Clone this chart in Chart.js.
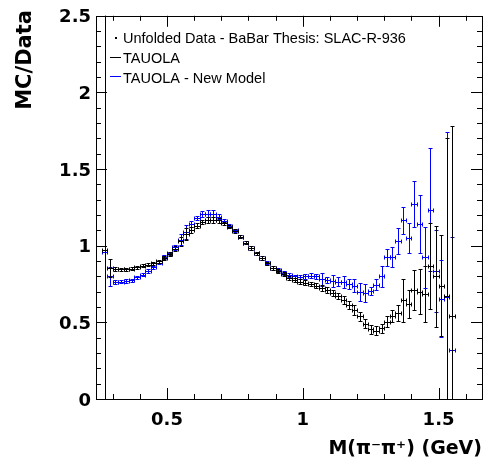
<!DOCTYPE html>
<html>
<head>
<meta charset="utf-8">
<script src="https://cdn.jsdelivr.net/npm/chart.js@4.4.1/dist/chart.umd.min.js"></script>
<style>
  html, body { margin: 0; padding: 0; background: #fff; }
  #wrap { width: 488px; height: 464px; }
</style>
</head>
<body>
<div id="wrap"><canvas id="ratioChart"></canvas></div>
<script>
// Bin centres of M(pi- pi+) in GeV, 0.02 GeV wide bins
const binCenters = [
  0.27, 0.29, 0.31, 0.33, 0.35, 0.37, 0.39, 0.41, 0.43, 0.45,
  0.47, 0.49, 0.51, 0.53, 0.55, 0.57, 0.59, 0.61, 0.63, 0.65,
  0.67, 0.69, 0.71, 0.73, 0.75, 0.77, 0.79, 0.81, 0.83, 0.85,
  0.87, 0.89, 0.91, 0.93, 0.95, 0.97, 0.99, 1.01, 1.03, 1.05,
  1.07, 1.09, 1.11, 1.13, 1.15, 1.17, 1.19, 1.21, 1.23, 1.25,
  1.27, 1.29, 1.31, 1.33, 1.35, 1.37, 1.39, 1.41, 1.43, 1.45,
  1.47, 1.49, 1.51, 1.53, 1.55
];
const halfBin = 0.01;

// TAUOLA / data
const tauolaRatio = [
  0.97, 0.855, 0.85, 0.845, 0.845, 0.85, 0.86, 0.87, 0.875, 0.885,
  0.90, 0.92, 0.945, 0.98, 1.03, 1.075, 1.10, 1.13, 1.155, 1.165,
  1.165, 1.165, 1.145, 1.125, 1.095, 1.06, 1.02, 0.985, 0.95, 0.92,
  0.885, 0.855, 0.835, 0.815, 0.79, 0.775, 0.765, 0.76, 0.75, 0.74,
  0.725, 0.71, 0.69, 0.67, 0.645, 0.615, 0.58, 0.54, 0.49, 0.455,
  0.445, 0.46, 0.505, 0.54, 0.56, 0.645, 0.62, 0.71, 0.70, 0.685,
  0.87, 0.80, 0.74, 0.67, 0.54
];
const tauolaErr = [
  3.0, 0.06, 0.012, 0.01, 0.01, 0.01, 0.01, 0.01, 0.01, 0.01,
  0.01, 0.012, 0.012, 0.015, 0.03, 0.04, 0.02, 0.015, 0.015, 0.02,
  0.02, 0.015, 0.012, 0.012, 0.012, 0.012, 0.012, 0.012, 0.012, 0.012,
  0.012, 0.012, 0.012, 0.012, 0.012, 0.012, 0.015, 0.015, 0.015, 0.015,
  0.02, 0.02, 0.02, 0.02, 0.025, 0.025, 0.03, 0.03, 0.03, 0.03,
  0.03, 0.03, 0.035, 0.04, 0.05, 0.14, 0.09, 0.13, 0.145, 0.18,
  0.28, 0.33, 0.33, 1.03, 1.24
];

// TAUOLA new model / data
const newModelRatio = [
  0.96, 0.80, 0.765, 0.765, 0.77, 0.775, 0.795, 0.81, 0.835, 0.86,
  0.89, 0.925, 0.95, 0.99, 1.04, 1.09, 1.14, 1.18, 1.205, 1.21,
  1.21, 1.19, 1.16, 1.13, 1.10, 1.06, 1.02, 0.985, 0.95, 0.92,
  0.89, 0.855, 0.84, 0.82, 0.81, 0.80, 0.795, 0.80, 0.805, 0.80,
  0.78, 0.775, 0.77, 0.765, 0.765, 0.75, 0.74, 0.70, 0.69, 0.705,
  0.745, 0.80, 0.925, 0.925, 1.03, 1.165, 1.05, 1.27, 1.14, 0.925,
  1.235, 0.835, 0.655, 0.665, 0.32
];
const newModelErr = [
  3.0, 0.06, 0.012, 0.01, 0.01, 0.01, 0.01, 0.01, 0.01, 0.01,
  0.01, 0.012, 0.012, 0.015, 0.035, 0.045, 0.02, 0.015, 0.02, 0.025,
  0.02, 0.015, 0.012, 0.012, 0.012, 0.012, 0.012, 0.012, 0.012, 0.012,
  0.012, 0.012, 0.012, 0.012, 0.012, 0.012, 0.015, 0.015, 0.015, 0.015,
  0.04, 0.02, 0.04, 0.03, 0.04, 0.03, 0.04, 0.06, 0.06, 0.025,
  0.035, 0.07, 0.055, 0.065, 0.085, 0.09, 0.095, 0.15, 0.19, 0.2,
  0.4, 0.27, 0.25, 1.08, 0.74
];

const xTickValues = [0.5, 1, 1.5];
const yTickValues = [0, 0.5, 1, 1.5, 2, 2.5];
const legendLabels = ["Unfolded Data - BaBar Thesis: SLAC-R-936", "TAUOLA", "TAUOLA - New Model"];
const seriesColors = ["#000000", "#0000ff"];

const crisp = v => Math.round(v) + 0.5;

// error bars drawn ROOT "E1" style: bars with end caps on both directions
const errorBarPlugin = {
  id: "errorBars",
  afterDatasetsDraw(chart) {
    const { ctx, chartArea, scales: { x, y } } = chart;
    ctx.save();
    ctx.beginPath();
    ctx.rect(chartArea.left, chartArea.top, chartArea.width, chartArea.height);
    ctx.clip();
    ctx.lineWidth = 1;
    // new model first so TAUOLA sits on top, like the original
    [...chart.data.datasets].reverse().forEach(ds => {
      ctx.strokeStyle = ds.borderColor;
      ds.data.forEach(p => {
        if (p.y == null) return;
        const px = crisp(x.getPixelForValue(p.x));
        const py = crisp(y.getPixelForValue(p.y));
        const x0 = crisp(x.getPixelForValue(p.x - halfBin));
        const x1 = crisp(x.getPixelForValue(p.x + halfBin));
        const yTop = crisp(y.getPixelForValue(p.y + p.err));
        const yBot = crisp(y.getPixelForValue(p.y - p.err));
        ctx.beginPath();
        ctx.moveTo(px, yTop); ctx.lineTo(px, yBot);
        ctx.moveTo(x0, py); ctx.lineTo(x1, py);
        ctx.moveTo(px - 2, yTop); ctx.lineTo(px + 2, yTop);
        ctx.moveTo(px - 2, yBot); ctx.lineTo(px + 2, yBot);
        ctx.moveTo(x0, py - 2); ctx.lineTo(x0, py + 2);
        ctx.moveTo(x1, py - 2); ctx.lineTo(x1, py + 2);
        ctx.stroke();
      });
    });
    ctx.restore();
  }
};

// frame, inward ticks, titles and legend
const framePlugin = {
  id: "rootFrame",
  afterDraw(chart) {
    const { ctx, chartArea: a, scales: { x, y } } = chart;
    ctx.save();
    ctx.strokeStyle = "#000";
    ctx.lineWidth = 1;
    ctx.strokeRect(crisp(a.left), crisp(a.top), Math.round(a.width), Math.round(a.height));

    ctx.beginPath();
    for (let i = 3; i <= 16; i++) {
      const v = i / 10;
      const len = (i % 5 === 0) ? 11 : 5;
      const px = crisp(x.getPixelForValue(v));
      ctx.moveTo(px, a.bottom); ctx.lineTo(px, a.bottom - len);
      ctx.moveTo(px, a.top); ctx.lineTo(px, a.top + len);
    }
    for (let i = 1; i < 25; i++) {
      const v = i / 10;
      const len = (i % 5 === 0) ? 11 : 5;
      const py = crisp(y.getPixelForValue(v));
      ctx.moveTo(a.left, py); ctx.lineTo(a.left + len, py);
      ctx.moveTo(a.right, py); ctx.lineTo(a.right - len, py);
    }
    ctx.stroke();

    // axis titles
    ctx.fillStyle = "#000";
    ctx.font = "bold 19px 'DejaVu Sans'";
    ctx.textAlign = "right";
    ctx.textBaseline = "alphabetic";
    ctx.fillText("M(\u03c0\u207b\u03c0\u207a) (GeV)", a.right, 454);

    ctx.save();
    ctx.translate(31, 10);
    ctx.rotate(-Math.PI / 2);
    ctx.font = "bold 21px 'DejaVu Sans'";
    ctx.fillText("MC/Data", 0, 0);
    ctx.restore();

    // legend
    ctx.font = "14.5px 'Liberation Sans'";
    ctx.textAlign = "left";
    const baselines = [43, 62.5, 82.5];
    legendLabels.forEach((label, i) => {
      ctx.fillStyle = "#000";
      ctx.fillText(label, 123, baselines[i]);
    });
    ctx.fillRect(115, 37, 2, 2);
    ctx.beginPath();
    ctx.strokeStyle = seriesColors[0];
    ctx.moveTo(110, 57.5); ctx.lineTo(121, 57.5);
    ctx.stroke();
    ctx.beginPath();
    ctx.strokeStyle = seriesColors[1];
    ctx.moveTo(110, 76.5); ctx.lineTo(121, 76.5);
    ctx.stroke();
    ctx.restore();
  }
};

const toPoints = (vals, errs) => binCenters.map((xv, i) => ({ x: xv, y: vals[i], err: errs[i] }));

new Chart(document.getElementById("ratioChart"), {
  type: "scatter",
  data: {
    datasets: [
      { label: "TAUOLA", data: toPoints(tauolaRatio, tauolaErr), borderColor: seriesColors[0], pointRadius: 0 },
      { label: "TAUOLA - New Model", data: toPoints(newModelRatio, newModelErr), borderColor: seriesColors[1], pointRadius: 0 }
    ]
  },
  options: {
    responsive: true,
    maintainAspectRatio: false,
    animation: false,
    layout: { padding: { left: 0, right: 6, top: 13, bottom: 0 } },
    plugins: { legend: { display: false }, tooltip: { enabled: false } },
    scales: {
      x: {
        type: "linear",
        min: 0.2385,
        max: 1.66,
        grid: { display: false, drawTicks: false },
        border: { display: false },
        afterBuildTicks: s => { s.ticks = xTickValues.map(v => ({ value: v })); },
        afterFit: s => { s.height = 65; },
        ticks: {
          padding: 11,
          color: "#000",
          maxRotation: 0,
          font: { family: "'DejaVu Sans'", size: 18, weight: "bold" },
          callback: v => String(v)
        }
      },
      y: {
        min: 0,
        max: 2.5,
        grid: { display: false, drawTicks: false },
        border: { display: false },
        afterBuildTicks: s => { s.ticks = yTickValues.map(v => ({ value: v })); },
        afterFit: s => { s.width = 96; },
        ticks: {
          padding: 5,
          labelOffset: 2,
          color: "#000",
          font: { family: "'DejaVu Sans'", size: 18, weight: "bold" },
          callback: v => String(v)
        }
      }
    }
  },
  plugins: [errorBarPlugin, framePlugin]
});
</script>
</body>
</html>
